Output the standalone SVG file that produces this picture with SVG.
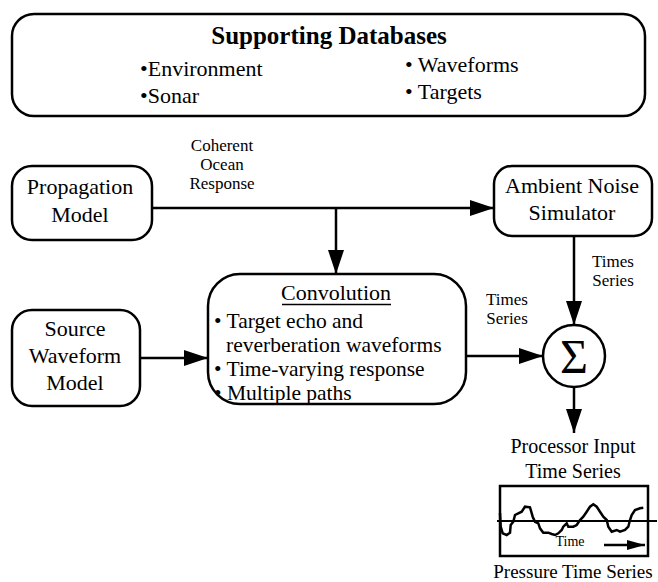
<svg xmlns="http://www.w3.org/2000/svg" width="658" height="582" viewBox="0 0 658 582" font-family="'Liberation Serif', 'Times New Roman', serif">
<defs>
<style>
text{font-family:'Liberation Serif','Times New Roman',serif;fill:#000}
.box{fill:#fff;stroke:#000;stroke-width:2.5}
.m{font-size:22px;text-anchor:middle}
.s{font-size:17px;text-anchor:middle}
.b{font-size:22px}
.cb{font-size:21.5px}
.c{fill:none;stroke:#000;stroke-width:2.5}
</style>
<marker id="ah" markerWidth="24" markerHeight="16" refX="24" refY="8" orient="auto" markerUnits="userSpaceOnUse"><path d="M0,0 L24,8 L0,16 z" fill="#000"/></marker>
<marker id="ahs" markerWidth="18" markerHeight="10" refX="18" refY="5" orient="auto" markerUnits="userSpaceOnUse"><path d="M0,0 L18,5 L0,10 z" fill="#000"/></marker>
</defs>
<rect width="658" height="582" fill="#fff"/>
<g id="databases">
<rect class="box" x="12" y="14" width="633" height="102" rx="22"/>
<text x="329" y="44" font-size="25" font-weight="bold" text-anchor="middle">Supporting Databases</text>
<text class="b" x="140" y="76">•Environment</text>
<text class="b" x="140" y="103">•Sonar</text>
<text class="b" x="405" y="72">• Waveforms</text>
<text class="b" x="405" y="99">• Targets</text>
</g>
<g id="propagation">
<rect class="box" x="12" y="166" width="140" height="74" rx="20"/>
<text class="m" x="80" y="194">Propagation</text>
<text class="m" x="80" y="222">Model</text>
</g>
<g id="ambient">
<rect class="box" x="494" y="166" width="158" height="70" rx="18"/>
<text class="m" x="572" y="193">Ambient Noise</text>
<text class="m" x="572" y="220">Simulator</text>
</g>
<g id="convolution">
<rect class="box" x="208" y="274" width="258" height="130" rx="32"/>
<text class="m" x="336" y="300">Convolution</text>
<line x1="282" y1="304.5" x2="391" y2="304.5" stroke="#000" stroke-width="1.5"/>
<text class="cb" x="214" y="328">• Target echo and</text>
<text class="cb" x="226" y="352">reverberation waveforms</text>
<text class="cb" x="214" y="376">• Time-varying response</text>
<text class="cb" x="214" y="400">• Multiple paths</text>
</g>
<g id="source">
<rect class="box" x="12" y="310" width="128" height="96" rx="20"/>
<text class="m" x="75" y="336">Source</text>
<text class="m" x="75" y="363">Waveform</text>
<text class="m" x="75" y="390">Model</text>
</g>
<g id="sum">
<circle class="box" cx="574" cy="356" r="31"/>
<text x="574" y="373" font-size="48" text-anchor="middle">Σ</text>
</g>
<g id="pressure">
<rect class="box" x="500" y="486" width="148" height="70"/>
<line x1="497" y1="521" x2="657" y2="521" stroke="#000" stroke-width="2"/>
<polyline fill="none" stroke="#000" stroke-width="2.5" points="500,513 500.7,526.7 502.7,533.3 506.7,535 510,532.7 510.7,525 513.3,521.7 515,515 518.3,513.3 521.7,511.7 525,506.7 530,507.3 532.7,516.7 535,521.7 538.3,523.3 540,528.3 543.3,532.7 548.3,532.7 551.7,534 555,535 558.3,533.3 561.7,530 563.3,526.7 566.7,523.3 568.3,526.7 573.3,526.7 576.7,525 580,520 583.3,516.7 586.7,511.7 590,506.7 593.3,504.3 596.7,506.7 600,511.7 603.3,516.7 606.7,520 608.3,526.7 611.7,531.7 616.7,530 620,531.7 625,530 628.3,526.7 630,520 631.7,515 635,510 640,508.3 643.3,507.7"/>
<text x="570" y="546" font-size="14" text-anchor="middle">Time</text>
<line x1="604" y1="545" x2="645" y2="545" stroke="#000" stroke-width="2.5" marker-end="url(#ahs)"/>
<text x="573" y="578" font-size="19" text-anchor="middle">Pressure Time Series</text>
</g>
<g id="connectors">
<line class="c" x1="152" y1="208" x2="494" y2="208" marker-end="url(#ah)"/>
<line class="c" x1="336" y1="208" x2="336" y2="274" marker-end="url(#ah)"/>
<line class="c" x1="140" y1="358" x2="208" y2="358" marker-end="url(#ah)"/>
<line class="c" x1="466" y1="356" x2="543" y2="356" marker-end="url(#ah)"/>
<line class="c" x1="574" y1="236" x2="574" y2="325" marker-end="url(#ah)"/>
<line class="c" x1="574" y1="387" x2="574" y2="433" marker-end="url(#ah)"/>
<text class="s" x="222" y="151">Coherent</text>
<text class="s" x="222" y="170">Ocean</text>
<text class="s" x="222" y="189">Response</text>
<text class="s" x="507" y="305">Times</text>
<text class="s" x="507" y="324">Series</text>
<text class="s" x="613" y="267">Times</text>
<text class="s" x="613" y="286">Series</text>
<text x="573" y="453" font-size="20" text-anchor="middle">Processor Input</text>
<text x="573" y="478" font-size="20" text-anchor="middle">Time Series</text>
</g>
</svg>
